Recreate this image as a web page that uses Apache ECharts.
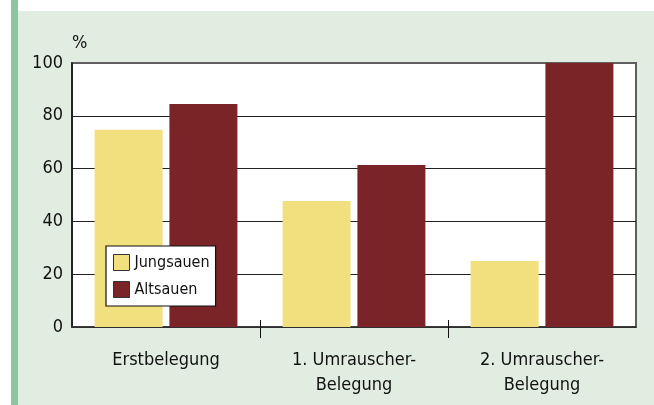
<!DOCTYPE html>
<html><head><meta charset="utf-8">
<script src="https://cdn.jsdelivr.net/npm/echarts@6/dist/echarts.min.js"></script>
<style>html,body{margin:0;padding:0;background:#fff}#c{width:654px;height:405px}</style>
</head><body><div id="c"></div>
<script>
const categories = ['Erstbelegung', '1. Umrauscher-\nBelegung', '2. Umrauscher-\nBelegung'];
const jungsauen = [74.7, 47.7, 25];
const altsauen = [84.5, 61.4, 100];
const yTicks = [0, 20, 40, 60, 80, 100];
const groupBoundaries = [1, 2];
const seriesNames = ['Jungsauen', 'Altsauen'];

const FONT = '"DejaVu Sans Condensed", sans-serif';
const chart = echarts.init(document.getElementById('c'), null, {renderer: 'canvas'});
chart.setOption({
  animation: false,
  backgroundColor: '#ffffff',
  textStyle: {fontFamily: FONT},
  graphic: [
    {type: 'rect', left: 0, top: 0, shape: {x: 0, y: 0, width: 654, height: 405}, style: {fill: '#e2ede1'}, z: -10, silent: true},
    {type: 'rect', left: 0, top: 0, shape: {x: 0, y: 0, width: 654, height: 11}, style: {fill: '#ffffff'}, z: -9, silent: true},
    {type: 'rect', left: 0, top: 0, shape: {x: 0, y: 0, width: 11, height: 405}, style: {fill: '#ffffff'}, z: -9, silent: true},
    {type: 'rect', left: 11, top: 0, shape: {x: 0, y: 0, width: 7, height: 405}, style: {fill: '#8cc6a1'}, z: -8, silent: true}
  ],
  grid: {left: 72, top: 63, width: 564, height: 264, show: true, backgroundColor: '#ffffff', borderColor: '#5f5f5f', borderWidth: 2},
  legend: {
    orient: 'vertical', left: 106, top: 246, data: seriesNames, icon: 'rect',
    backgroundColor: '#ffffff', borderColor: '#111', borderWidth: 1.2,
    padding: [8, 6, 8, 7], itemWidth: 16, itemHeight: 16, itemGap: 10,
    textStyle: {fontSize: 16, color: '#111', fontFamily: FONT},
    itemStyle: {borderColor: '#333', borderWidth: 1}
  },
  xAxis: [{
    type: 'category', data: categories, boundaryGap: true,
    axisLine: {show: true, lineStyle: {color: '#333', width: 1.5}},
    axisTick: {show: false},
    axisLabel: {fontSize: 18, color: '#111', margin: 21, lineHeight: 25, fontFamily: FONT}
  }, {
    type: 'value', min: 0, max: 3, position: 'bottom',
    axisLine: {show: false}, splitLine: {show: false},
    axisTick: {show: true, length: 11, customValues: groupBoundaries, lineStyle: {color: '#111', width: 1}},
    axisLabel: {show: false}
  }, {
    type: 'value', min: 0, max: 3, position: 'bottom',
    axisLine: {show: false}, splitLine: {show: false},
    axisTick: {show: true, inside: true, length: 7, customValues: groupBoundaries, lineStyle: {color: '#111', width: 1}},
    axisLabel: {show: false}
  }],
  yAxis: {
    type: 'value', min: 0, max: 100, interval: 20,
    name: '%', nameLocation: 'end', nameGap: 11,
    nameTextStyle: {fontSize: 18, color: '#111', align: 'left', fontFamily: FONT},
    axisLine: {show: true, lineStyle: {color: '#111', width: 1.5}},
    axisTick: {show: false},
    axisLabel: {fontSize: 18, color: '#111', margin: 9, fontFamily: FONT,
      formatter: function (v) { return yTicks.indexOf(v) >= 0 ? String(v) : ''; }},
    splitLine: {show: true, lineStyle: {color: ['#222', '#222', '#222', '#222', '#222', '#5f5f5f'], width: 1.2}}
  },
  series: [
    {name: seriesNames[0], type: 'bar', data: jungsauen, barWidth: 68, barGap: '10%',
      itemStyle: {color: '#f2df7d'}},
    {name: seriesNames[1], type: 'bar', data: altsauen, barWidth: 68, barGap: '10%',
      itemStyle: {color: '#7a2428'}}
  ]
});
</script></body></html>
